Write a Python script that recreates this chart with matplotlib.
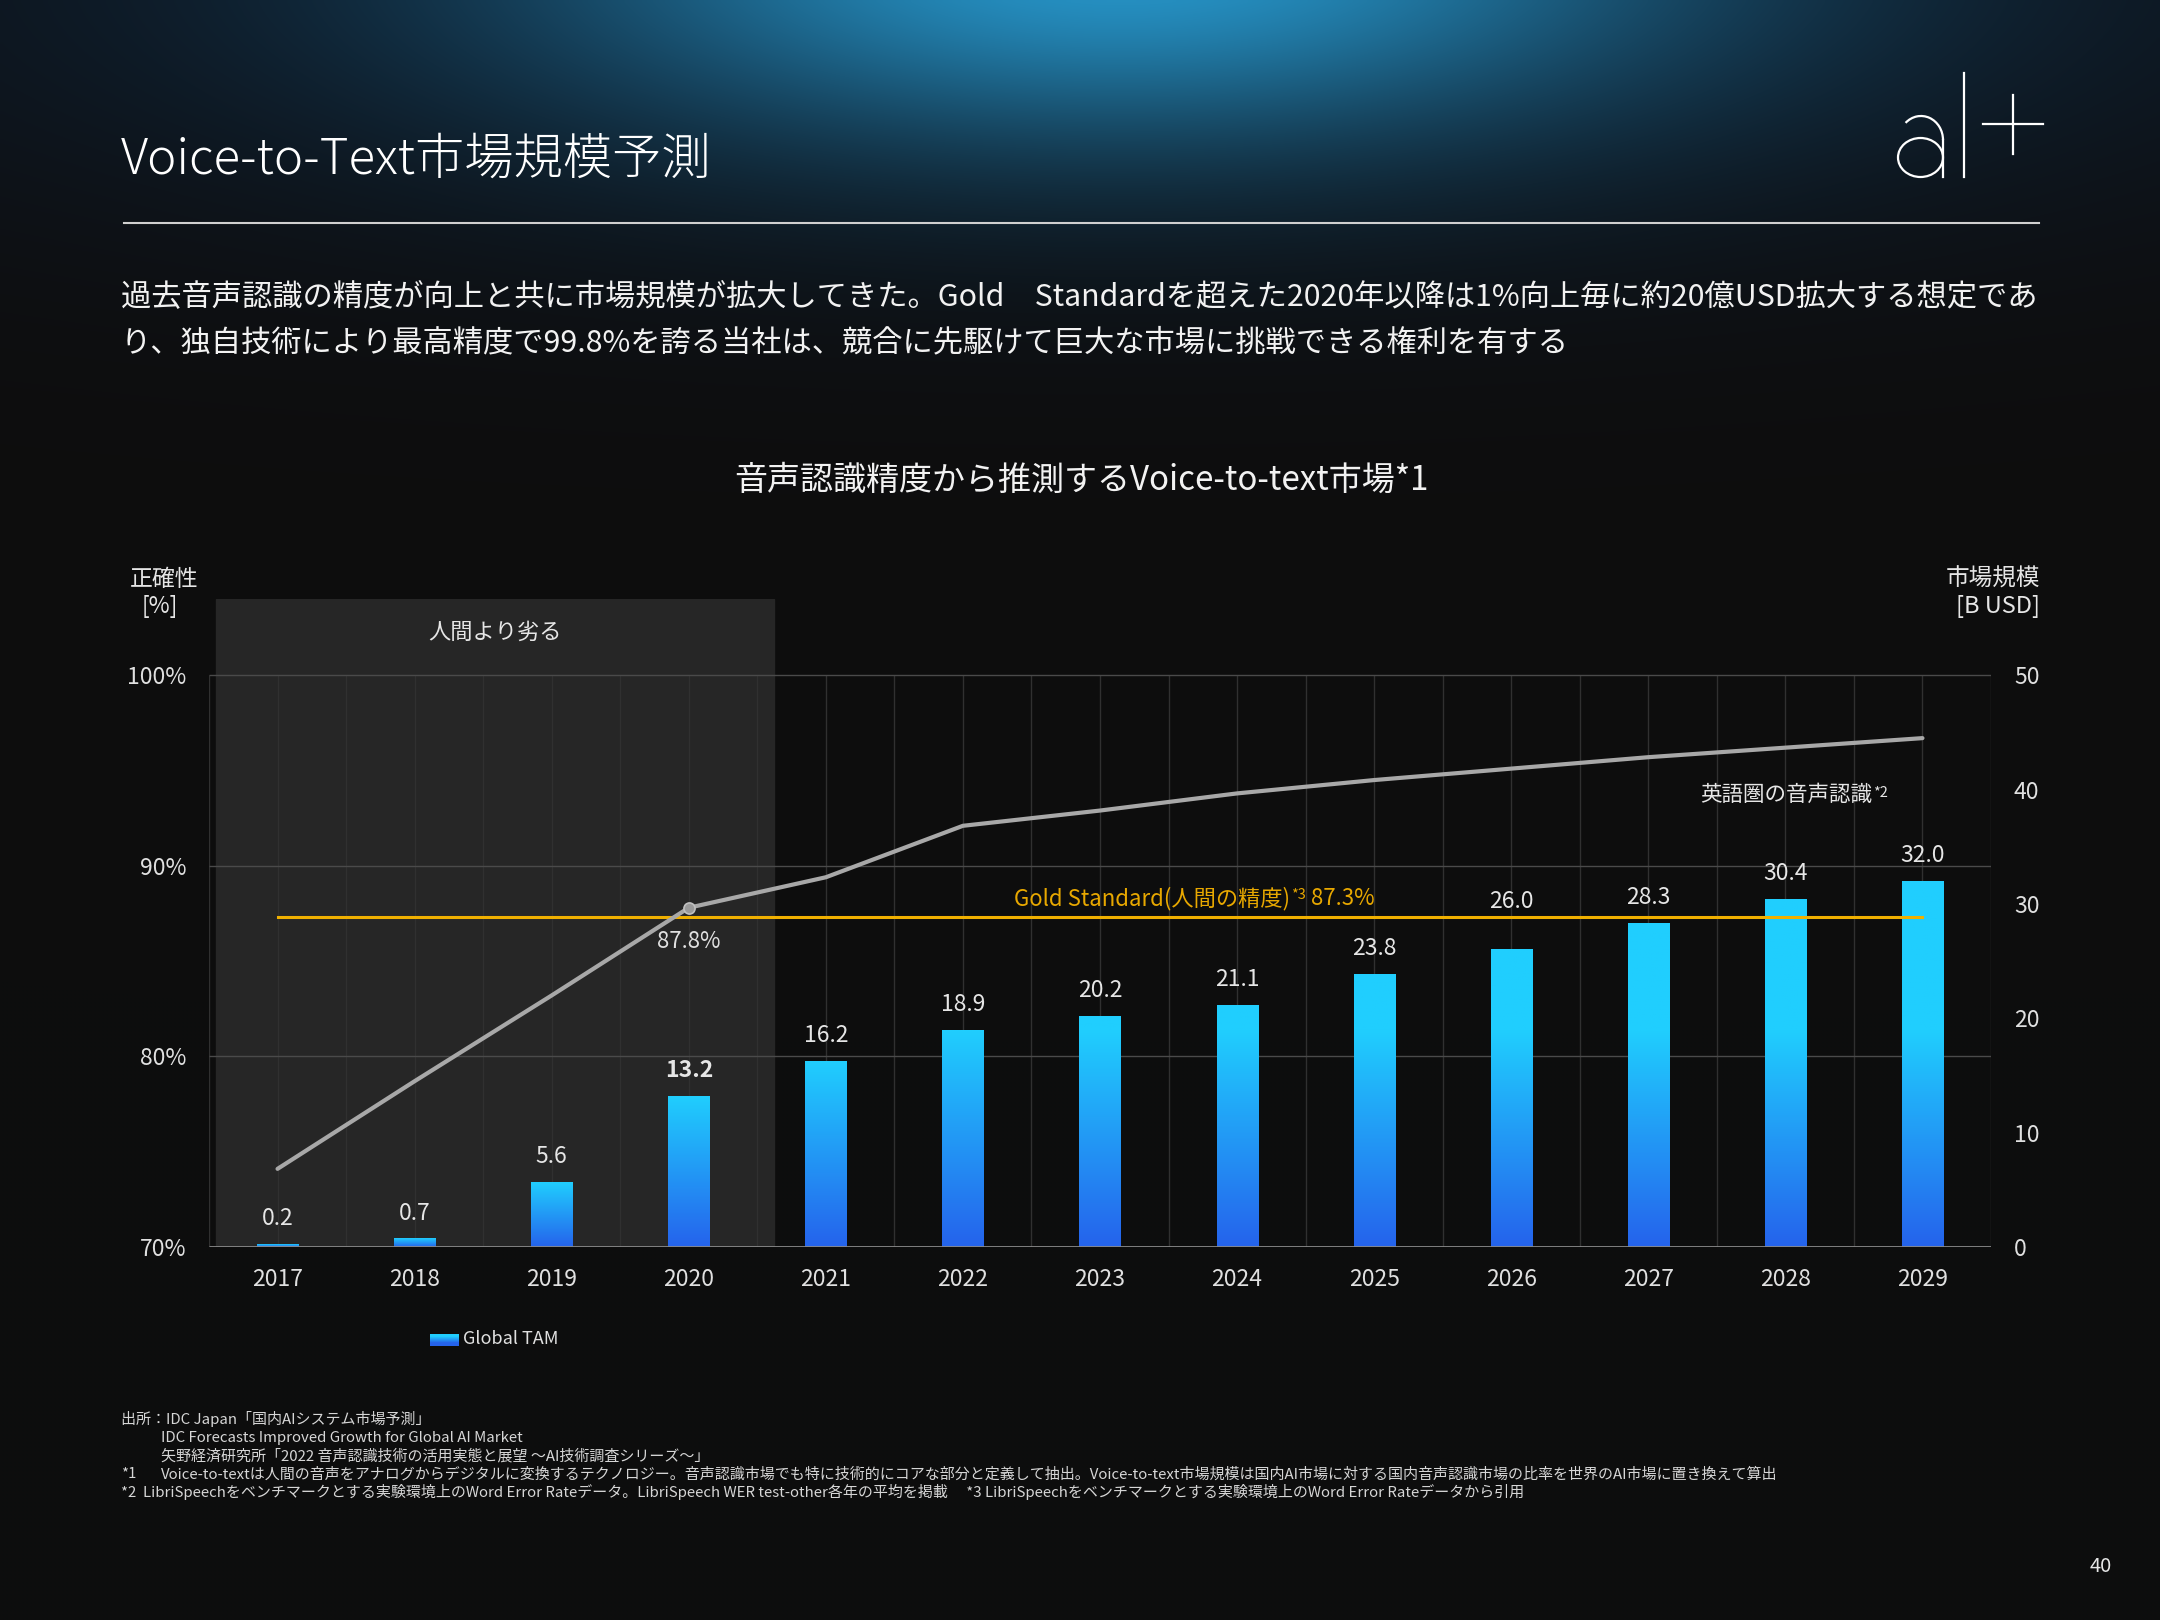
#%%
import numpy as np
import matplotlib
matplotlib.use('Agg')
import matplotlib.pyplot as plt
from matplotlib.patches import Rectangle, Ellipse, Arc
from matplotlib.colors import to_rgb

plt.rcParams['font.family'] = ['Noto Sans CJK JP', 'DejaVu Sans']

# data
years = ['2017', '2018', '2019', '2020', '2021', '2022', '2023',
         '2024', '2025', '2026', '2027', '2028', '2029']
tam = [0.2, 0.7, 5.6, 13.2, 16.2, 18.9, 20.2, 21.1, 23.8, 26.0, 28.3, 30.4, 32.0]
accuracy = [74.1, 78.7, 83.2, 87.8, 89.4, 92.1, 92.9, 93.8, 94.5, 95.1, 95.7, 96.2, 96.7]
gold_standard = 87.3
acc_ticks = [70, 80, 90, 100]
tam_ticks = [0, 10, 20, 30, 40, 50]

title = 'Voice-to-Text市場規模予測'
lead = ['過去音声認識の精度が向上と共に市場規模が拡大してきた。Gold　Standardを超えた2020年以降は1%向上毎に約20億USD拡大する想定であ',
        'り、独自技術により最高精度で99.8%を誇る当社は、競合に先駆けて巨大な市場に挑戦できる権利を有する']
chart_title = '音声認識精度から推測するVoice-to-text市場*1'
notes = [
    (121, '出所：IDC Japan「国内AIシステム市場予測」'),
    (161, 'IDC Forecasts Improved Growth for Global AI Market'),
    (161, '矢野経済研究所「2022 音声認識技術の活用実態と展望 ～AI技術調査シリーズ～」'),
    (161, 'Voice-to-textは人間の音声をアナログからデジタルに変換するテクノロジー。音声認識市場でも特に技術的にコアな部分と定義して抽出。Voice-to-text市場規模は国内AI市場に対する国内音声認識市場の比率を世界のAI市場に置き換えて算出'),
    (121, '*2  LibriSpeechをベンチマークとする実験環境上のWord Error Rateデータ。LibriSpeech WER test-other各年の平均を掲載　 *3 LibriSpeechをベンチマークとする実験環境上のWord Error Rateデータから引用'),
]

W, H = 2160, 1620
fig = plt.figure(figsize=(21.6, 16.2), dpi=100)
fig.patch.set_facecolor('#0d0d0d')

# background with blue glow, pixel coordinates
bg = fig.add_axes([0, 0, 1, 1], zorder=-10)
gy, gx = np.mgrid[0:H // 4, 0:W // 4] * 4.0
g1 = np.exp(-((gx - 1120) / 560) ** 2 - ((gy + 40) / 175) ** 2)
g2 = np.exp(-((gx - 1100) / 1300) ** 2 - ((gy + 20) / 270) ** 2)
img = (np.array([13, 13, 13]) / 255 + g1[..., None] * np.array([0.10, 0.46, 0.58])
       + g2[..., None] * np.array([0.0, 0.07, 0.15]))
bg.imshow(np.clip(img, 0, 1), extent=(0, W, H, 0), aspect='auto', interpolation='bilinear')
bg.set_xlim(0, W)
bg.set_ylim(H, 0)
bg.axis('off')

# header
bg.text(121, 160, title, fontsize=35.5, va='center', color='white', fontweight='light')
bg.plot([124, 2039], [223, 223], color='#d0d0d0', lw=1.5)
# logo
bg.add_patch(Ellipse((1920.5, 157.5), 45, 39, fill=False, ec='white', lw=1.6))
bg.add_patch(Arc((1921, 140), 44, 48, theta1=228, theta2=360, ec='white', lw=1.6))
bg.plot([1943, 1943], [140, 177], color='white', lw=1.6)
bg.plot([1964, 1964], [73, 177], color='white', lw=1.6)
bg.plot([1983, 2043], [124, 124], color='white', lw=1.6)
bg.plot([2013, 2013], [95, 154], color='white', lw=1.6)

for y, line in zip([298, 343], lead):
    bg.text(121, y, line, fontsize=21.8, va='center', color='#f2f2f2')
bg.text(1081, 480, chart_title, ha='center', va='center', fontsize=23.8, color='#f2f2f2')

bg.text(164, 579, '正確性', ha='center', va='center', fontsize=16.5, color='#e6e6e6')
bg.text(160, 606, '[%]', ha='center', va='center', fontsize=16.5, color='#e6e6e6')
bg.text(2040, 579, '市場規模', ha='right', va='center', fontsize=17, color='#e6e6e6')
bg.text(2040, 606, '[B USD]', ha='right', va='center', fontsize=17, color='#e6e6e6')

for (x, line), y in zip(notes, [1419, 1438, 1456, 1474, 1492]):
    bg.text(x, y, line, fontsize=10.8, va='center', color='#d6d6d6')
bg.text(121, 1474, '*1', fontsize=10.8, va='center', color='#d6d6d6')
bg.text(2101, 1566, '40', ha='center', va='center', fontsize=14.5, color='#e6e6e6')

# chart
ax = fig.add_axes([209 / W, 373 / H, 1782 / W, 648 / H])
ax2 = ax.twinx()
ax.set_zorder(ax2.get_zorder() + 1)
for a in (ax, ax2):
    a.patch.set_visible(False)
    for s in a.spines.values():
        s.set_visible(False)

n = len(years)
x = np.arange(n)
tam_top = 50 * 34 / 30

# lower layer: shade, grid, bars
ax2.add_patch(Rectangle((-0.45, 0), 4.07, tam_top, color='#262626', zorder=0))
ax2.vlines(np.arange(-0.5, n, 0.5), 0, 50, color='#303030', lw=1, zorder=1)
ax2.hlines([10 * (t - 70) / 6 for t in acc_ticks[1:]], -0.5, n - 0.5, color='#4a4a4a', lw=1, zorder=1)
ax2.hlines(0, -0.5, n - 0.5, color='#8a8a8a', lw=2, zorder=4)

top_c = np.array(to_rgb('#20cefe'))
bot_c = np.array(to_rgb('#2563ec'))
for i, v in enumerate(tam):
    ys = np.linspace(0, v, 200)
    t = np.clip(ys / min(v, 18.9), 0, 1)[:, None]
    cols = bot_c + (top_c - bot_c) * t
    ax2.imshow(cols[:, None, :], extent=(i - 0.15, i + 0.15, 0, v), origin='lower',
               aspect='auto', zorder=3)
    # the 2026 label is lifted clear of the gold standard line
    off = 34.7 if years[i] == '2026' else 18.7
    ax2.annotate(f'{v:.1f}', (i, v), xytext=(0, off), textcoords='offset points',
                 ha='center', va='center', fontsize=16.5, color='#e6e6e6',
                 fontweight='bold' if years[i] == '2020' else 'normal')

ax2.set_xlim(-0.5, n - 0.5)
ax2.set_ylim(0, tam_top)
ax2.set_yticks(tam_ticks)
ax2.tick_params(axis='y', length=0, pad=16.5, labelsize=16.5, labelcolor='#e0e0e0')

# upper layer: accuracy line, gold standard
ax.plot([0, n - 1], [gold_standard] * 2, color='#f0b000', lw=2.2, zorder=3)
ax.plot(x, accuracy, color='#a8a8a8', lw=3, solid_capstyle='round', zorder=4)
ax.plot(3, accuracy[3], 'o', ms=8, mfc='#9a9a9a', mec='#c0c0c0', mew=1.2, zorder=5)
ax.text(3, 86.05, f'{accuracy[3]}%', ha='center', va='center', fontsize=16, color='#e0e0e0')

gt = ax.text(5.37, 88.3, 'Gold Standard(人間の精度)', ha='left', va='center',
             fontsize=16, color='#e8a800')
gs = ax.annotate('*3', xy=(1, 1), xycoords=gt, xytext=(1, -1), textcoords='offset points',
                 ha='left', va='top', fontsize=10.5, color='#e8a800')
ax.annotate(f' {gold_standard}%', xy=(1, 0.5), xycoords=(gs, gt), ha='left', va='center',
            fontsize=16, color='#e8a800')

et = ax.text(11.63, 93.7, '英語圏の音声認識', ha='right', va='center', fontsize=15.5, color='#e6e6e6')
ax.annotate('*2', xy=(1, 1), xycoords=et, xytext=(1, -1), textcoords='offset points',
            ha='left', va='top', fontsize=10.5, color='#e6e6e6')

ax.text(1.585, 102.27, '人間より劣る', ha='center', va='center', fontsize=16, color='#e6e6e6')

ax.set_xlim(-0.5, n - 0.5)
ax.set_ylim(70, 104)
ax.set_yticks(acc_ticks)
ax.set_yticklabels([f'{t}%' for t in acc_ticks])
ax.set_xticks(x)
ax.set_xticklabels(years)
ax.tick_params(axis='y', length=0, pad=16.5, labelsize=16.5, labelcolor='#e0e0e0')
ax.tick_params(axis='x', length=0, pad=15, labelsize=16.5, labelcolor='#e0e0e0')

# legend swatch
lg = fig.add_axes([430 / W, (H - 1346) / H, 29 / W, 12 / H])
lg.imshow(np.array([bot_c, top_c])[:, None, :], origin='lower', aspect='auto',
          interpolation='bilinear', extent=(0, 1, 0, 1))
lg.axis('off')
bg.text(463, 1339, 'Global TAM', va='center', fontsize=13, color='#e0e0e0')

fig.savefig('out.png', dpi=100, facecolor=fig.get_facecolor())
